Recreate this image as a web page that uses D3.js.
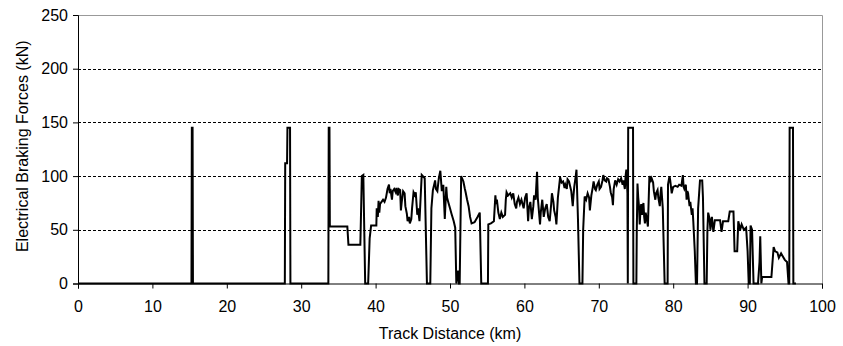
<!DOCTYPE html>
<html>
<head>
<meta charset="utf-8">
<script src="https://cdn.jsdelivr.net/npm/d3@7"></script>
<style>
  body { margin: 0; background: #fff; }
  text { font-family: Arial, "Liberation Sans", sans-serif; fill: #000; }
</style>
</head>
<body>
<div id="chart"></div>
<script>
// track distance (km) and braking force (kN)
let distance = [
  0, 15.25, 15.3, 15.4, 15.45, 27.8, 27.85, 28.1, 28.15, 28.5,
  28.55, 33.65, 33.7, 33.8, 33.85, 36.2, 36.35, 37.95, 38.15, 38.35,
  38.6, 39.0, 39.2, 39.4, 40.1, 40.15, 40.3, 40.4, 40.5, 40.6,
  40.8, 41.0, 41.2, 41.4, 41.6, 41.8, 41.9, 42.0, 42.2, 42.3,
  42.5, 42.7, 42.8, 43.0, 43.1, 43.3, 43.4, 43.5, 43.7, 43.9,
  44.0, 44.2, 44.3, 44.5, 44.6, 44.8, 44.9, 45.1, 45.3, 45.4,
  45.6, 45.7, 45.9, 46.05, 46.2, 46.6, 46.9, 47.35, 47.5, 47.7,
  48.0, 48.1, 48.3, 48.5, 48.7, 48.9, 49.1, 49.3, 49.5, 49.6,
  49.8, 50.0, 50.2, 50.5, 50.7, 50.85, 51.1, 51.2, 51.3, 51.5,
  51.8, 52.0, 52.1, 52.3, 52.5, 52.7, 52.9, 53.3, 53.7, 54.0,
  54.2, 55.1, 55.15, 55.5, 55.9, 56.0, 56.1, 56.2, 56.3, 56.5,
  56.7, 56.9, 57.1, 57.4, 57.5, 57.6, 57.8, 58.1, 58.3, 58.5,
  58.7, 58.9, 59.0, 59.2, 59.4, 59.6, 59.9, 60.1, 60.3, 60.5,
  60.6, 60.8, 61.0, 61.2, 61.3, 61.5, 61.7, 61.8, 62.1, 62.2,
  62.4, 62.6, 62.8, 63.0, 63.2, 63.4, 63.6, 63.7, 63.9, 64.0,
  64.2, 64.3, 64.5, 64.8, 65.0, 65.2, 65.4, 65.5, 65.7, 65.8,
  66.0, 66.1, 66.3, 66.5, 66.6, 66.7, 66.9, 67.0, 67.2, 67.4,
  67.8, 67.9, 68.1, 68.3, 68.5, 68.7, 68.8, 69.0, 69.2, 69.3,
  69.5, 69.6, 69.8, 70.0, 70.1, 70.3, 70.5, 70.6, 70.8, 71.0,
  71.1, 71.3, 71.5, 71.6, 71.8, 71.9, 72.0, 72.2, 72.4, 72.6,
  72.8, 73.0, 73.2, 73.3, 73.5, 73.6, 73.7, 73.85, 73.9, 73.95,
  74.6, 74.65, 75.05, 75.1, 75.2, 75.3, 75.4, 75.5, 75.6, 75.7,
  75.8, 75.9, 76.0, 76.1, 76.2, 76.3, 76.4, 76.5, 76.6, 76.8,
  77.0, 77.1, 77.3, 77.4, 77.6, 77.7, 77.9, 78.0, 78.2, 78.3,
  78.4, 78.6, 78.85, 79.25, 79.3, 79.5, 79.6, 79.8, 80.0, 80.3,
  80.6, 80.8, 81.1, 81.3, 81.4, 81.5, 81.7, 81.8, 81.9, 82.0,
  82.2, 82.3, 82.5, 82.6, 82.7, 82.9, 83.05, 83.2, 83.35, 83.6,
  83.9, 84.0, 84.2, 84.5, 84.6, 84.7, 84.9, 85.0, 85.2, 85.4,
  85.6, 86.3, 86.5, 86.7, 87.4, 87.6, 88.1, 88.25, 88.6, 88.75,
  89.0, 89.2, 89.5, 89.8, 90.0, 90.15, 90.3, 90.4, 90.6, 90.8,
  91.4, 91.6, 91.7, 91.85, 91.95, 93.2, 93.5, 93.7, 94.0, 94.2,
  94.5, 95.0, 95.3, 95.5, 95.6, 95.65, 96.1, 96.15, 96.5
];
let force = [
  0, 0, 145, 145, 0, 0, 112, 112, 145, 145,
  0, 0, 145, 145, 53, 53, 36, 36, 100, 101,
  0, 0, 42, 54, 54, 70, 62, 77, 66, 74,
  76, 78, 76, 80, 88, 92, 84, 88, 78, 86,
  88, 85, 89, 82, 88, 87, 68, 75, 86, 84,
  72, 65, 58, 62, 56, 60, 70, 85, 82, 85,
  64, 70, 58, 80, 101, 98, 0, 0, 70, 87,
  96, 88, 86, 98, 105, 86, 92, 60, 90, 80,
  75, 70, 65, 58, 52, 0, 12, 0, 0, 100,
  95, 88, 85, 78, 72, 62, 56, 57, 62, 66,
  0, 0, 55, 56, 58, 70, 82, 74, 78, 66,
  60, 66, 62, 64, 78, 85, 82, 84, 80, 84,
  74, 70, 76, 80, 74, 78, 70, 80, 84, 58,
  70, 76, 60, 72, 82, 78, 104, 80, 55, 66,
  78, 62, 70, 74, 62, 58, 74, 84, 76, 68,
  62, 55, 80, 99, 94, 95, 89, 92, 88, 97,
  95, 92, 86, 72, 82, 90, 100, 106, 60, 0,
  0, 50, 81, 78, 84, 80, 68, 82, 90, 95,
  88, 87, 92, 95, 88, 90, 96, 101, 96, 95,
  98, 97, 90, 85, 80, 73, 88, 96, 92, 97,
  95, 98, 92, 96, 88, 100, 106, 84, 0, 145,
  145, 0, 0, 47, 93, 80, 72, 55, 68, 74,
  64, 70, 75, 62, 56, 66, 62, 58, 53, 100,
  96, 98, 94, 86, 78, 84, 87, 80, 72, 84,
  90, 70, 0, 0, 92, 100, 96, 84, 90, 91,
  90, 92, 91, 101, 90, 88, 92, 78, 86, 84,
  72, 76, 64, 70, 58, 30, 0, 0, 70, 96,
  96, 80, 0, 0, 50, 66, 60, 50, 62, 48,
  59, 59, 48, 58, 58, 67, 67, 30, 30, 58,
  50, 55, 50, 52, 30, 0, 0, 54, 50, 0,
  0, 20, 44, 0, 6, 6, 34, 30, 29, 24,
  28, 22, 20, 0, 0, 145, 145, 0, 0
];
let xTicks = [0, 10, 20, 30, 40, 50, 60, 70, 80, 90, 100];
let yTicks = [0, 50, 100, 150, 200, 250];

let width = 843, height = 346;
let margin = { top: 15, left: 78, right: 21, bottom: 62.5 };
let innerW = width - margin.left - margin.right,
    innerH = height - margin.top - margin.bottom;

let svg = d3.select('#chart')
  .append('svg')
    .attr('width', width)
    .attr('height', height);

let g = svg.append('g')
  .attr('transform', `translate(${margin.left}, ${margin.top})`);

let xScale = d3.scaleLinear().domain([0, 100]).range([0, innerW]);
let yScale = d3.scaleLinear().domain([0, 250]).range([innerH, 0]);

// dashed grid lines
g.selectAll('.grid')
  .data(yTicks.filter(d => d > 0 && d < 250))
  .enter()
  .append('line')
    .attr('x1', 0)
    .attr('x2', innerW)
    .attr('y1', d => Math.round(yScale(d)) + 0.5)
    .attr('y2', d => Math.round(yScale(d)) + 0.5)
    .style('stroke', '#000')
    .style('stroke-width', 1)
    .style('stroke-dasharray', '3,2');

// plot area border on top and right
g.append('path')
  .attr('d', `M0,${Math.round(yScale(250)) + 0.5}H${Math.round(innerW) + 0.5}V${innerH}`)
  .style('fill', 'none')
  .style('stroke', '#999')
  .style('stroke-width', 1);

// axes
let xAxis = g.append('g')
  .attr('transform', `translate(0, ${innerH})`)
  .call(d3.axisBottom(xScale).tickValues(xTicks).tickSize(5).tickPadding(12));

let yAxis = g.append('g')
  .call(d3.axisLeft(yScale).tickValues(yTicks).tickSize(5).tickPadding(5));

[xAxis, yAxis].forEach(a => {
  a.select('.domain').style('stroke', '#000');
  a.selectAll('.tick line').style('stroke', '#000');
  a.selectAll('.tick text')
    .style('font-family', 'Arial, "Liberation Sans", sans-serif')
    .style('font-size', '16px')
    .style('fill', '#000');
});

// braking force trace
let line = d3.line()
  .x(d => xScale(d[0]))
  .y(d => yScale(d[1]));

g.append('path')
  .datum(distance.map((d, i) => [d, force[i]]))
  .attr('d', line)
  .style('fill', 'none')
  .style('stroke', '#000')
  .style('stroke-width', 2)
  .style('stroke-linejoin', 'miter');

// axis titles
svg.append('text')
  .attr('x', margin.left + innerW / 2)
  .attr('y', 339)
  .style('text-anchor', 'middle')
  .style('font-size', '16px')
  .text('Track Distance (km)');

svg.append('text')
  .attr('transform', `translate(28, ${margin.top + innerH / 2 - 3}) rotate(-90)`)
  .style('text-anchor', 'middle')
  .style('font-size', '16px')
  .text('Electrical Braking Forces (kN)');
</script>
</body>
</html>
